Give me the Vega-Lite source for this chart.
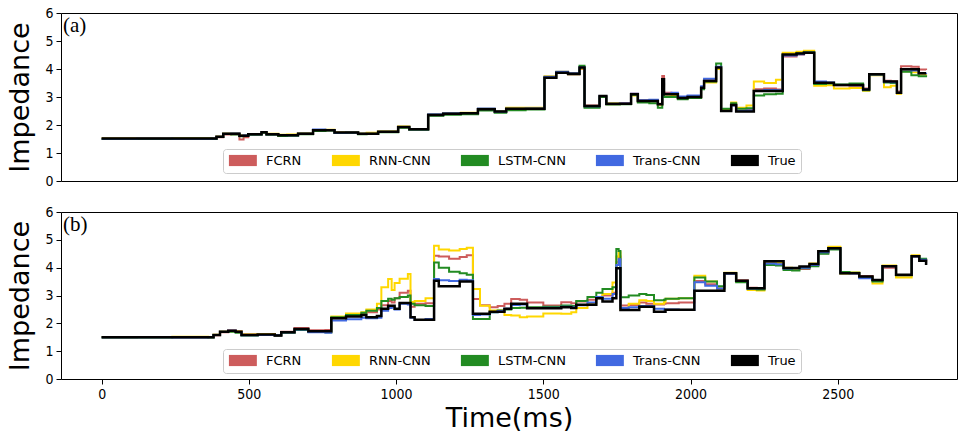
{
"$schema": "https://vega.github.io/schema/vega-lite/v6.json",
"padding": {"left": 6, "top": 5, "right": 1, "bottom": 2},
"background": "white",
"config": {
  "font": "DejaVu Sans",
  "view": {"stroke": "black", "strokeWidth": 1},
  "axis": {"labelFont": "DejaVu Sans Condensed, DejaVu Sans", "labelFontSize": 14, "labelColor": "black", "tickColor": "black", "tickSize": 5, "labelPadding": 3, "domain": false, "grid": false, "titleFont": "DejaVu Sans", "titleFontSize": 27, "titleFontWeight": "normal", "titleColor": "black", "format": "d"},
  "legend": {"orient": "none", "legendX": 162, "legendY": 136, "direction": "horizontal", "columns": 5, "gridAlign": "none", "symbolType": "M-1,-1H4V1H-1Z", "symbolSize": 125, "symbolStrokeWidth": 0, "labelFont": "DejaVu Sans", "labelFontSize": 13, "labelColor": "black", "labelOffset": 25, "columnPadding": 29, "padding": 5, "strokeColor": "#cccccc", "fillColor": "white", "cornerRadius": 3}
},
"datasets": {"d": [
{"p":"a","t":0,"True":1.52,"FCRN":1.52,"RNN-CNN":1.53,"LSTM-CNN":1.50,"Trans-CNN":1.51},
{"p":"a","t":120,"True":1.52,"FCRN":1.51,"RNN-CNN":1.53,"LSTM-CNN":1.50,"Trans-CNN":1.52},
{"p":"a","t":240,"True":1.52,"FCRN":1.52,"RNN-CNN":1.54,"LSTM-CNN":1.51,"Trans-CNN":1.51},
{"p":"a","t":373,"True":1.52,"FCRN":1.51,"RNN-CNN":1.53,"LSTM-CNN":1.50,"Trans-CNN":1.52},
{"p":"a","t":390,"True":1.58,"FCRN":1.56,"RNN-CNN":1.59,"LSTM-CNN":1.57,"Trans-CNN":1.58},
{"p":"a","t":413,"True":1.69,"FCRN":1.66,"RNN-CNN":1.70,"LSTM-CNN":1.68,"Trans-CNN":1.69},
{"p":"a","t":440,"True":1.69,"FCRN":1.67,"RNN-CNN":1.70,"LSTM-CNN":1.66,"Trans-CNN":1.70},
{"p":"a","t":468,"True":1.62,"FCRN":1.48,"RNN-CNN":1.63,"LSTM-CNN":1.60,"Trans-CNN":1.62},
{"p":"a","t":482,"True":1.62,"FCRN":1.56,"RNN-CNN":1.64,"LSTM-CNN":1.61,"Trans-CNN":1.63},
{"p":"a","t":498,"True":1.67,"FCRN":1.66,"RNN-CNN":1.68,"LSTM-CNN":1.65,"Trans-CNN":1.67},
{"p":"a","t":543,"True":1.74,"FCRN":1.73,"RNN-CNN":1.75,"LSTM-CNN":1.72,"Trans-CNN":1.75},
{"p":"a","t":560,"True":1.67,"FCRN":1.66,"RNN-CNN":1.69,"LSTM-CNN":1.65,"Trans-CNN":1.67},
{"p":"a","t":600,"True":1.63,"FCRN":1.62,"RNN-CNN":1.65,"LSTM-CNN":1.61,"Trans-CNN":1.64},
{"p":"a","t":630,"True":1.63,"FCRN":1.64,"RNN-CNN":1.66,"LSTM-CNN":1.62,"Trans-CNN":1.63},
{"p":"a","t":667,"True":1.69,"FCRN":1.68,"RNN-CNN":1.71,"LSTM-CNN":1.67,"Trans-CNN":1.70},
{"p":"a","t":718,"True":1.81,"FCRN":1.80,"RNN-CNN":1.82,"LSTM-CNN":1.79,"Trans-CNN":1.84},
{"p":"a","t":760,"True":1.81,"FCRN":1.82,"RNN-CNN":1.83,"LSTM-CNN":1.80,"Trans-CNN":1.82},
{"p":"a","t":791,"True":1.73,"FCRN":1.72,"RNN-CNN":1.74,"LSTM-CNN":1.71,"Trans-CNN":1.72},
{"p":"a","t":830,"True":1.73,"FCRN":1.74,"RNN-CNN":1.75,"LSTM-CNN":1.72,"Trans-CNN":1.73},
{"p":"a","t":871,"True":1.69,"FCRN":1.68,"RNN-CNN":1.70,"LSTM-CNN":1.67,"Trans-CNN":1.69},
{"p":"a","t":900,"True":1.69,"FCRN":1.70,"RNN-CNN":1.72,"LSTM-CNN":1.68,"Trans-CNN":1.69},
{"p":"a","t":939,"True":1.76,"FCRN":1.75,"RNN-CNN":1.78,"LSTM-CNN":1.74,"Trans-CNN":1.76},
{"p":"a","t":1007,"True":1.93,"FCRN":1.92,"RNN-CNN":1.95,"LSTM-CNN":1.90,"Trans-CNN":1.93},
{"p":"a","t":1045,"True":1.85,"FCRN":1.84,"RNN-CNN":1.86,"LSTM-CNN":1.83,"Trans-CNN":1.85},
{"p":"a","t":1109,"True":2.36,"FCRN":2.37,"RNN-CNN":2.38,"LSTM-CNN":2.33,"Trans-CNN":2.38},
{"p":"a","t":1160,"True":2.40,"FCRN":2.41,"RNN-CNN":2.42,"LSTM-CNN":2.37,"Trans-CNN":2.42},
{"p":"a","t":1220,"True":2.42,"FCRN":2.43,"RNN-CNN":2.44,"LSTM-CNN":2.38,"Trans-CNN":2.43},
{"p":"a","t":1278,"True":2.56,"FCRN":2.57,"RNN-CNN":2.58,"LSTM-CNN":2.52,"Trans-CNN":2.59},
{"p":"a","t":1335,"True":2.48,"FCRN":2.47,"RNN-CNN":2.49,"LSTM-CNN":2.44,"Trans-CNN":2.48},
{"p":"a","t":1374,"True":2.58,"FCRN":2.57,"RNN-CNN":2.62,"LSTM-CNN":2.53,"Trans-CNN":2.58},
{"p":"a","t":1440,"True":2.58,"FCRN":2.59,"RNN-CNN":2.62,"LSTM-CNN":2.55,"Trans-CNN":2.59},
{"p":"a","t":1504,"True":3.69,"FCRN":3.68,"RNN-CNN":3.74,"LSTM-CNN":3.70,"Trans-CNN":3.72},
{"p":"a","t":1544,"True":3.87,"FCRN":3.86,"RNN-CNN":3.90,"LSTM-CNN":3.88,"Trans-CNN":3.90},
{"p":"a","t":1584,"True":3.83,"FCRN":3.80,"RNN-CNN":3.84,"LSTM-CNN":3.81,"Trans-CNN":3.85},
{"p":"a","t":1623,"True":4.05,"FCRN":4.00,"RNN-CNN":4.02,"LSTM-CNN":4.12,"Trans-CNN":4.05},
{"p":"a","t":1640,"True":2.68,"FCRN":2.70,"RNN-CNN":2.66,"LSTM-CNN":2.62,"Trans-CNN":2.67},
{"p":"a","t":1691,"True":3.04,"FCRN":3.02,"RNN-CNN":3.00,"LSTM-CNN":3.00,"Trans-CNN":3.04},
{"p":"a","t":1714,"True":2.76,"FCRN":2.74,"RNN-CNN":2.77,"LSTM-CNN":2.73,"Trans-CNN":2.75},
{"p":"a","t":1760,"True":2.76,"FCRN":2.78,"RNN-CNN":2.75,"LSTM-CNN":2.74,"Trans-CNN":2.77},
{"p":"a","t":1798,"True":3.10,"FCRN":3.12,"RNN-CNN":3.05,"LSTM-CNN":3.08,"Trans-CNN":3.12},
{"p":"a","t":1821,"True":2.86,"FCRN":2.88,"RNN-CNN":2.84,"LSTM-CNN":2.80,"Trans-CNN":2.88},
{"p":"a","t":1860,"True":2.86,"FCRN":2.89,"RNN-CNN":2.85,"LSTM-CNN":2.78,"Trans-CNN":2.90},
{"p":"a","t":1889,"True":2.74,"FCRN":2.76,"RNN-CNN":2.72,"LSTM-CNN":2.62,"Trans-CNN":2.75},
{"p":"a","t":1904,"True":3.63,"FCRN":3.75,"RNN-CNN":3.55,"LSTM-CNN":3.50,"Trans-CNN":3.60},
{"p":"a","t":1910,"True":3.10,"FCRN":3.15,"RNN-CNN":3.02,"LSTM-CNN":3.00,"Trans-CNN":3.12},
{"p":"a","t":1935,"True":3.10,"FCRN":3.12,"RNN-CNN":3.04,"LSTM-CNN":3.00,"Trans-CNN":3.15},
{"p":"a","t":1957,"True":2.96,"FCRN":2.98,"RNN-CNN":2.95,"LSTM-CNN":2.92,"Trans-CNN":3.02},
{"p":"a","t":1990,"True":3.00,"FCRN":3.02,"RNN-CNN":3.00,"LSTM-CNN":2.96,"Trans-CNN":3.05},
{"p":"a","t":2036,"True":3.33,"FCRN":3.35,"RNN-CNN":3.30,"LSTM-CNN":3.28,"Trans-CNN":3.38},
{"p":"a","t":2046,"True":3.57,"FCRN":3.60,"RNN-CNN":3.52,"LSTM-CNN":3.55,"Trans-CNN":3.65},
{"p":"a","t":2087,"True":4.05,"FCRN":4.02,"RNN-CNN":4.00,"LSTM-CNN":4.20,"Trans-CNN":4.08},
{"p":"a","t":2104,"True":2.50,"FCRN":2.52,"RNN-CNN":2.55,"LSTM-CNN":2.58,"Trans-CNN":2.50},
{"p":"a","t":2138,"True":2.71,"FCRN":2.72,"RNN-CNN":2.80,"LSTM-CNN":2.78,"Trans-CNN":2.70},
{"p":"a","t":2155,"True":2.48,"FCRN":2.52,"RNN-CNN":2.62,"LSTM-CNN":2.58,"Trans-CNN":2.50},
{"p":"a","t":2190,"True":2.48,"FCRN":2.55,"RNN-CNN":2.70,"LSTM-CNN":2.60,"Trans-CNN":2.52},
{"p":"a","t":2215,"True":3.21,"FCRN":3.28,"RNN-CNN":3.55,"LSTM-CNN":3.05,"Trans-CNN":3.22},
{"p":"a","t":2250,"True":3.21,"FCRN":3.30,"RNN-CNN":3.50,"LSTM-CNN":3.10,"Trans-CNN":3.25},
{"p":"a","t":2290,"True":3.21,"FCRN":3.27,"RNN-CNN":3.62,"LSTM-CNN":3.12,"Trans-CNN":3.24},
{"p":"a","t":2313,"True":4.52,"FCRN":4.45,"RNN-CNN":4.58,"LSTM-CNN":4.50,"Trans-CNN":4.48},
{"p":"a","t":2360,"True":4.55,"FCRN":4.52,"RNN-CNN":4.62,"LSTM-CNN":4.55,"Trans-CNN":4.53},
{"p":"a","t":2385,"True":4.58,"FCRN":4.57,"RNN-CNN":4.65,"LSTM-CNN":4.60,"Trans-CNN":4.58},
{"p":"a","t":2420,"True":3.51,"FCRN":3.52,"RNN-CNN":3.40,"LSTM-CNN":3.46,"Trans-CNN":3.55},
{"p":"a","t":2460,"True":3.51,"FCRN":3.50,"RNN-CNN":3.42,"LSTM-CNN":3.48,"Trans-CNN":3.52},
{"p":"a","t":2487,"True":3.43,"FCRN":3.42,"RNN-CNN":3.30,"LSTM-CNN":3.45,"Trans-CNN":3.43},
{"p":"a","t":2540,"True":3.43,"FCRN":3.40,"RNN-CNN":3.32,"LSTM-CNN":3.48,"Trans-CNN":3.42},
{"p":"a","t":2586,"True":3.27,"FCRN":3.30,"RNN-CNN":3.22,"LSTM-CNN":3.24,"Trans-CNN":3.28},
{"p":"a","t":2607,"True":3.81,"FCRN":3.82,"RNN-CNN":3.78,"LSTM-CNN":3.80,"Trans-CNN":3.80},
{"p":"a","t":2657,"True":3.55,"FCRN":3.58,"RNN-CNN":3.35,"LSTM-CNN":3.52,"Trans-CNN":3.55},
{"p":"a","t":2680,"True":3.55,"FCRN":3.56,"RNN-CNN":3.40,"LSTM-CNN":3.50,"Trans-CNN":3.53},
{"p":"a","t":2701,"True":3.15,"FCRN":3.20,"RNN-CNN":3.12,"LSTM-CNN":3.14,"Trans-CNN":3.15},
{"p":"a","t":2715,"True":3.99,"FCRN":4.10,"RNN-CNN":3.92,"LSTM-CNN":3.90,"Trans-CNN":3.98},
{"p":"a","t":2750,"True":3.99,"FCRN":4.08,"RNN-CNN":3.88,"LSTM-CNN":3.78,"Trans-CNN":3.95},
{"p":"a","t":2775,"True":3.85,"FCRN":3.98,"RNN-CNN":3.80,"LSTM-CNN":3.74,"Trans-CNN":3.85},
{"p":"a","t":2800,"True":3.85,"FCRN":3.96,"RNN-CNN":3.82,"LSTM-CNN":3.78,"Trans-CNN":3.87},
{"p":"b","t":0,"True":1.50,"FCRN":1.50,"RNN-CNN":1.51,"LSTM-CNN":1.49,"Trans-CNN":1.50},
{"p":"b","t":120,"True":1.50,"FCRN":1.51,"RNN-CNN":1.51,"LSTM-CNN":1.49,"Trans-CNN":1.50},
{"p":"b","t":240,"True":1.50,"FCRN":1.50,"RNN-CNN":1.52,"LSTM-CNN":1.50,"Trans-CNN":1.49},
{"p":"b","t":362,"True":1.50,"FCRN":1.51,"RNN-CNN":1.50,"LSTM-CNN":1.49,"Trans-CNN":1.50},
{"p":"b","t":380,"True":1.58,"FCRN":1.57,"RNN-CNN":1.59,"LSTM-CNN":1.58,"Trans-CNN":1.58},
{"p":"b","t":402,"True":1.70,"FCRN":1.68,"RNN-CNN":1.71,"LSTM-CNN":1.69,"Trans-CNN":1.70},
{"p":"b","t":430,"True":1.73,"FCRN":1.74,"RNN-CNN":1.72,"LSTM-CNN":1.70,"Trans-CNN":1.73},
{"p":"b","t":455,"True":1.70,"FCRN":1.72,"RNN-CNN":1.71,"LSTM-CNN":1.66,"Trans-CNN":1.69},
{"p":"b","t":475,"True":1.58,"FCRN":1.60,"RNN-CNN":1.60,"LSTM-CNN":1.56,"Trans-CNN":1.57},
{"p":"b","t":530,"True":1.60,"FCRN":1.62,"RNN-CNN":1.61,"LSTM-CNN":1.58,"Trans-CNN":1.58},
{"p":"b","t":588,"True":1.56,"FCRN":1.55,"RNN-CNN":1.58,"LSTM-CNN":1.56,"Trans-CNN":1.57},
{"p":"b","t":610,"True":1.68,"FCRN":1.70,"RNN-CNN":1.66,"LSTM-CNN":1.66,"Trans-CNN":1.67},
{"p":"b","t":655,"True":1.80,"FCRN":1.83,"RNN-CNN":1.78,"LSTM-CNN":1.76,"Trans-CNN":1.78},
{"p":"b","t":702,"True":1.72,"FCRN":1.75,"RNN-CNN":1.70,"LSTM-CNN":1.70,"Trans-CNN":1.68},
{"p":"b","t":760,"True":1.72,"FCRN":1.76,"RNN-CNN":1.68,"LSTM-CNN":1.68,"Trans-CNN":1.66},
{"p":"b","t":780,"True":2.18,"FCRN":2.20,"RNN-CNN":2.25,"LSTM-CNN":2.22,"Trans-CNN":2.10},
{"p":"b","t":830,"True":2.25,"FCRN":2.32,"RNN-CNN":2.35,"LSTM-CNN":2.30,"Trans-CNN":2.15},
{"p":"b","t":882,"True":2.30,"FCRN":2.35,"RNN-CNN":2.40,"LSTM-CNN":2.38,"Trans-CNN":2.20},
{"p":"b","t":899,"True":2.22,"FCRN":2.40,"RNN-CNN":2.50,"LSTM-CNN":2.45,"Trans-CNN":2.18},
{"p":"b","t":935,"True":2.26,"FCRN":2.50,"RNN-CNN":2.70,"LSTM-CNN":2.55,"Trans-CNN":2.20},
{"p":"b","t":950,"True":2.52,"FCRN":2.65,"RNN-CNN":3.30,"LSTM-CNN":2.80,"Trans-CNN":2.45},
{"p":"b","t":973,"True":2.63,"FCRN":2.80,"RNN-CNN":3.59,"LSTM-CNN":2.88,"Trans-CNN":2.55},
{"p":"b","t":985,"True":2.63,"FCRN":2.75,"RNN-CNN":3.20,"LSTM-CNN":2.85,"Trans-CNN":2.58},
{"p":"b","t":995,"True":2.52,"FCRN":2.90,"RNN-CNN":3.45,"LSTM-CNN":2.90,"Trans-CNN":2.50},
{"p":"b","t":1012,"True":2.73,"FCRN":3.10,"RNN-CNN":3.60,"LSTM-CNN":2.95,"Trans-CNN":2.70},
{"p":"b","t":1040,"True":2.73,"FCRN":3.17,"RNN-CNN":3.77,"LSTM-CNN":3.00,"Trans-CNN":2.68},
{"p":"b","t":1049,"True":2.22,"FCRN":2.60,"RNN-CNN":2.77,"LSTM-CNN":2.70,"Trans-CNN":2.20},
{"p":"b","t":1063,"True":2.13,"FCRN":2.70,"RNN-CNN":2.80,"LSTM-CNN":2.65,"Trans-CNN":2.12},
{"p":"b","t":1100,"True":2.13,"FCRN":2.72,"RNN-CNN":2.90,"LSTM-CNN":2.62,"Trans-CNN":2.16},
{"p":"b","t":1129,"True":3.53,"FCRN":4.43,"RNN-CNN":4.79,"LSTM-CNN":4.19,"Trans-CNN":3.59},
{"p":"b","t":1145,"True":3.33,"FCRN":4.40,"RNN-CNN":4.65,"LSTM-CNN":4.00,"Trans-CNN":3.55},
{"p":"b","t":1180,"True":3.33,"FCRN":4.32,"RNN-CNN":4.62,"LSTM-CNN":3.85,"Trans-CNN":3.52},
{"p":"b","t":1216,"True":3.50,"FCRN":4.38,"RNN-CNN":4.67,"LSTM-CNN":3.80,"Trans-CNN":3.57},
{"p":"b","t":1240,"True":3.50,"FCRN":4.45,"RNN-CNN":4.72,"LSTM-CNN":3.75,"Trans-CNN":3.55},
{"p":"b","t":1261,"True":2.34,"FCRN":2.87,"RNN-CNN":3.23,"LSTM-CNN":2.16,"Trans-CNN":2.30},
{"p":"b","t":1285,"True":2.34,"FCRN":2.65,"RNN-CNN":2.63,"LSTM-CNN":2.16,"Trans-CNN":2.32},
{"p":"b","t":1318,"True":2.42,"FCRN":2.58,"RNN-CNN":2.46,"LSTM-CNN":2.40,"Trans-CNN":2.40},
{"p":"b","t":1345,"True":2.42,"FCRN":2.62,"RNN-CNN":2.46,"LSTM-CNN":2.46,"Trans-CNN":2.44},
{"p":"b","t":1368,"True":2.52,"FCRN":2.70,"RNN-CNN":2.30,"LSTM-CNN":2.50,"Trans-CNN":2.52},
{"p":"b","t":1391,"True":2.70,"FCRN":2.87,"RNN-CNN":2.28,"LSTM-CNN":2.55,"Trans-CNN":2.66},
{"p":"b","t":1420,"True":2.70,"FCRN":2.85,"RNN-CNN":2.22,"LSTM-CNN":2.56,"Trans-CNN":2.68},
{"p":"b","t":1445,"True":2.54,"FCRN":2.75,"RNN-CNN":2.25,"LSTM-CNN":2.58,"Trans-CNN":2.55},
{"p":"b","t":1500,"True":2.54,"FCRN":2.64,"RNN-CNN":2.35,"LSTM-CNN":2.60,"Trans-CNN":2.56},
{"p":"b","t":1561,"True":2.58,"FCRN":2.76,"RNN-CNN":2.34,"LSTM-CNN":2.64,"Trans-CNN":2.60},
{"p":"b","t":1595,"True":2.55,"FCRN":2.72,"RNN-CNN":2.40,"LSTM-CNN":2.62,"Trans-CNN":2.58},
{"p":"b","t":1612,"True":2.67,"FCRN":2.78,"RNN-CNN":2.55,"LSTM-CNN":2.80,"Trans-CNN":2.65},
{"p":"b","t":1650,"True":2.67,"FCRN":2.85,"RNN-CNN":2.70,"LSTM-CNN":2.95,"Trans-CNN":2.75},
{"p":"b","t":1680,"True":2.90,"FCRN":2.95,"RNN-CNN":2.90,"LSTM-CNN":3.10,"Trans-CNN":2.95},
{"p":"b","t":1701,"True":2.78,"FCRN":3.00,"RNN-CNN":3.05,"LSTM-CNN":3.23,"Trans-CNN":2.88},
{"p":"b","t":1735,"True":2.90,"FCRN":3.10,"RNN-CNN":3.47,"LSTM-CNN":3.30,"Trans-CNN":3.05},
{"p":"b","t":1748,"True":3.98,"FCRN":4.20,"RNN-CNN":4.40,"LSTM-CNN":4.67,"Trans-CNN":4.10},
{"p":"b","t":1756,"True":3.98,"FCRN":4.40,"RNN-CNN":4.55,"LSTM-CNN":4.60,"Trans-CNN":4.30},
{"p":"b","t":1762,"True":2.48,"FCRN":2.64,"RNN-CNN":2.50,"LSTM-CNN":2.94,"Trans-CNN":2.55},
{"p":"b","t":1790,"True":2.48,"FCRN":2.66,"RNN-CNN":2.70,"LSTM-CNN":3.00,"Trans-CNN":2.58},
{"p":"b","t":1826,"True":2.60,"FCRN":2.75,"RNN-CNN":2.83,"LSTM-CNN":3.05,"Trans-CNN":2.62},
{"p":"b","t":1850,"True":2.60,"FCRN":2.70,"RNN-CNN":2.80,"LSTM-CNN":3.02,"Trans-CNN":2.62},
{"p":"b","t":1876,"True":2.42,"FCRN":2.68,"RNN-CNN":2.70,"LSTM-CNN":2.83,"Trans-CNN":2.52},
{"p":"b","t":1910,"True":2.42,"FCRN":2.70,"RNN-CNN":2.76,"LSTM-CNN":2.85,"Trans-CNN":2.50},
{"p":"b","t":1915,"True":2.49,"FCRN":2.72,"RNN-CNN":2.88,"LSTM-CNN":2.88,"Trans-CNN":2.50},
{"p":"b","t":1960,"True":2.49,"FCRN":2.75,"RNN-CNN":2.90,"LSTM-CNN":2.90,"Trans-CNN":2.48},
{"p":"b","t":2013,"True":3.17,"FCRN":3.52,"RNN-CNN":3.71,"LSTM-CNN":3.65,"Trans-CNN":3.48},
{"p":"b","t":2050,"True":3.17,"FCRN":3.40,"RNN-CNN":3.50,"LSTM-CNN":3.50,"Trans-CNN":3.35},
{"p":"b","t":2090,"True":3.17,"FCRN":3.25,"RNN-CNN":3.25,"LSTM-CNN":3.33,"Trans-CNN":3.25},
{"p":"b","t":2115,"True":3.80,"FCRN":3.78,"RNN-CNN":3.82,"LSTM-CNN":3.80,"Trans-CNN":3.78},
{"p":"b","t":2155,"True":3.53,"FCRN":3.55,"RNN-CNN":3.50,"LSTM-CNN":3.48,"Trans-CNN":3.52},
{"p":"b","t":2194,"True":3.26,"FCRN":3.28,"RNN-CNN":3.20,"LSTM-CNN":3.24,"Trans-CNN":3.25},
{"p":"b","t":2225,"True":3.26,"FCRN":3.22,"RNN-CNN":3.18,"LSTM-CNN":3.22,"Trans-CNN":3.26},
{"p":"b","t":2251,"True":4.23,"FCRN":4.20,"RNN-CNN":4.22,"LSTM-CNN":4.10,"Trans-CNN":4.15},
{"p":"b","t":2290,"True":4.23,"FCRN":4.15,"RNN-CNN":4.18,"LSTM-CNN":4.08,"Trans-CNN":4.12},
{"p":"b","t":2316,"True":3.99,"FCRN":3.98,"RNN-CNN":4.00,"LSTM-CNN":3.92,"Trans-CNN":3.97},
{"p":"b","t":2345,"True":3.99,"FCRN":3.94,"RNN-CNN":3.96,"LSTM-CNN":3.90,"Trans-CNN":3.98},
{"p":"b","t":2370,"True":4.04,"FCRN":3.95,"RNN-CNN":4.02,"LSTM-CNN":3.98,"Trans-CNN":4.00},
{"p":"b","t":2404,"True":4.13,"FCRN":4.08,"RNN-CNN":4.15,"LSTM-CNN":4.05,"Trans-CNN":4.10},
{"p":"b","t":2434,"True":4.59,"FCRN":4.52,"RNN-CNN":4.60,"LSTM-CNN":4.50,"Trans-CNN":4.55},
{"p":"b","t":2468,"True":4.70,"FCRN":4.68,"RNN-CNN":4.75,"LSTM-CNN":4.65,"Trans-CNN":4.70},
{"p":"b","t":2509,"True":3.80,"FCRN":3.82,"RNN-CNN":3.78,"LSTM-CNN":3.84,"Trans-CNN":3.80},
{"p":"b","t":2540,"True":3.80,"FCRN":3.80,"RNN-CNN":3.83,"LSTM-CNN":3.82,"Trans-CNN":3.79},
{"p":"b","t":2573,"True":3.68,"FCRN":3.70,"RNN-CNN":3.66,"LSTM-CNN":3.66,"Trans-CNN":3.62},
{"p":"b","t":2618,"True":3.56,"FCRN":3.55,"RNN-CNN":3.43,"LSTM-CNN":3.50,"Trans-CNN":3.56},
{"p":"b","t":2652,"True":4.05,"FCRN":4.00,"RNN-CNN":4.08,"LSTM-CNN":4.06,"Trans-CNN":4.05},
{"p":"b","t":2698,"True":3.75,"FCRN":3.72,"RNN-CNN":3.65,"LSTM-CNN":3.73,"Trans-CNN":3.74},
{"p":"b","t":2751,"True":4.41,"FCRN":4.40,"RNN-CNN":4.45,"LSTM-CNN":4.42,"Trans-CNN":4.40},
{"p":"b","t":2777,"True":4.25,"FCRN":4.28,"RNN-CNN":4.30,"LSTM-CNN":4.32,"Trans-CNN":4.28},
{"p":"b","t":2800,"True":4.10,"FCRN":4.15,"RNN-CNN":4.20,"LSTM-CNN":4.22,"Trans-CNN":4.12}
]},
"spacing": 15,
"resolve": {"scale": {"color": "independent"}, "legend": {"color": "independent"}},
"vconcat": [
{
  "width": 896, "height": 168,
  "data": {"name": "d"},
  "title": {"text": "(a)", "anchor": "start", "frame": "group", "orient": "top", "offset": -30, "dx": 2, "font": "Liberation Serif", "fontSize": 21, "fontWeight": "normal", "color": "black"},
  "transform": [{"filter": "datum.p == 'a'"}, {"fold": ["FCRN", "RNN-CNN", "LSTM-CNN", "Trans-CNN", "True"], "as": ["s", "v"]}],
  "encoding": {
    "x": {"field": "t", "type": "quantitative", "scale": {"domain": [-138, 2905], "nice": false, "zero": false}, "axis": null},
    "y": {"field": "v", "type": "quantitative", "scale": {"domain": [0, 6], "nice": false}, "axis": {"values": [0, 1, 2, 3, 4, 5, 6], "title": "Impedance", "titlePadding": 10}},
    "color": {"field": "s", "type": "nominal", "scale": {"domain": ["FCRN", "RNN-CNN", "LSTM-CNN", "Trans-CNN", "True"], "range": ["#CD5C5C", "#FFD700", "#228B22", "#4169E1", "#000000"]}, "legend": {"title": null, "encode": {"symbols": {"update": {"strokeWidth": {"value": 0}, "fill": {"scale": "concat_0_color", "field": "value"}, "fillOpacity": {"value": 1}}}}}}
  },
  "layer": [
    {"transform": [{"filter": "datum.s != 'True'"}], "mark": {"type": "line", "interpolate": "step-after", "strokeWidth": 2}},
    {"transform": [{"filter": "datum.s == 'True'"}], "mark": {"type": "line", "interpolate": "step-after", "strokeWidth": 2.5}}
  ]
},
{
  "width": 896, "height": 167,
  "data": {"name": "d"},
  "title": {"text": "(b)", "anchor": "start", "frame": "group", "orient": "top", "offset": -30, "dx": 2, "font": "Liberation Serif", "fontSize": 21, "fontWeight": "normal", "color": "black"},
  "transform": [{"filter": "datum.p == 'b'"}, {"fold": ["FCRN", "RNN-CNN", "LSTM-CNN", "Trans-CNN", "True"], "as": ["s", "v"]}],
  "encoding": {
    "x": {"field": "t", "type": "quantitative", "scale": {"domain": [-138, 2905], "nice": false, "zero": false}, "axis": {"values": [0, 500, 1000, 1500, 2000, 2500], "title": "Time(ms)", "titlePadding": 4}},
    "y": {"field": "v", "type": "quantitative", "scale": {"domain": [0, 6], "nice": false}, "axis": {"values": [0, 1, 2, 3, 4, 5, 6], "title": "Impedance", "titlePadding": 10}},
    "color": {"field": "s", "type": "nominal", "scale": {"domain": ["FCRN", "RNN-CNN", "LSTM-CNN", "Trans-CNN", "True"], "range": ["#CD5C5C", "#FFD700", "#228B22", "#4169E1", "#000000"]}, "legend": {"title": null, "legendY": 137, "encode": {"symbols": {"update": {"strokeWidth": {"value": 0}, "fill": {"scale": "concat_1_color", "field": "value"}, "fillOpacity": {"value": 1}}}}}}
  },
  "layer": [
    {"transform": [{"filter": "datum.s != 'True'"}], "mark": {"type": "line", "interpolate": "step-after", "strokeWidth": 2}},
    {"transform": [{"filter": "datum.s == 'True'"}], "mark": {"type": "line", "interpolate": "step-after", "strokeWidth": 2.5}}
  ]
}
]
}
